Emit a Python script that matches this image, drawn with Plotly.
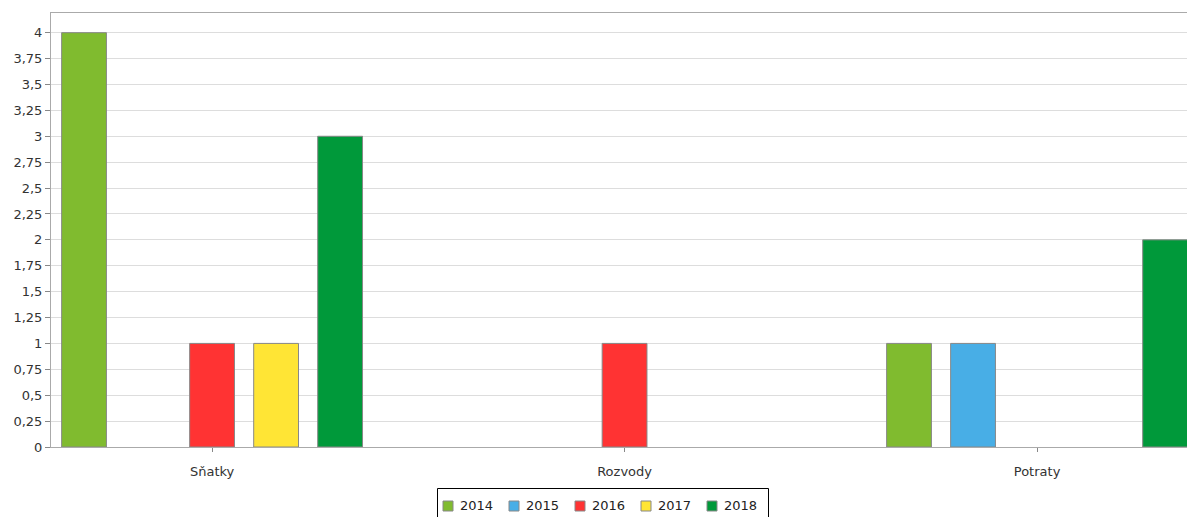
import plotly.graph_objects as go

categories = ["Sňatky", "Rozvody", "Potraty"]
years = ["2014", "2015", "2016", "2017", "2018"]
values_2014 = [4, 0, 1]
values_2015 = [0, 0, 1]
values_2016 = [1, 1, 0]
values_2017 = [1, 0, 0]
values_2018 = [3, 0, 2]
y_ticks = [0, 0.25, 0.5, 0.75, 1, 1.25, 1.5, 1.75, 2, 2.25, 2.5, 2.75, 3, 3.25, 3.5, 3.75, 4]
y_tick_text = [("%g" % v).replace(".", ",") for v in y_ticks]

series = [values_2014, values_2015, values_2016, values_2017, values_2018]
colors = ["#80BB2F", "#48AEE6", "#FF3333", "#FFE535", "#00993A"]

x_pos = list(range(len(categories)))
FONT = "DejaVu Sans, Verdana, sans-serif"

W, H = 1187, 517
PLOT_L, PLOT_R, PLOT_T, PLOT_B = 51, 1187, 13, 447


def px_x(px):
    return (px - PLOT_L) / (PLOT_R - PLOT_L)


def px_y(py):
    return (PLOT_B - py) / (PLOT_B - PLOT_T)


fig = go.Figure()
for name, vals, col in zip(years, series, colors):
    fig.add_trace(go.Bar(
        x=x_pos, y=vals, name=name,
        marker=dict(color=col, line=dict(color="#888888",
                                         width=[1 if v else 0 for v in vals])),
        showlegend=False,
    ))

# custom legend (box with swatches and labels)
shapes = [dict(type="rect", xref="paper", yref="paper",
               x0=px_x(437.5), x1=px_x(768.5), y0=px_y(488.5), y1=px_y(530),
               line=dict(color="#000000", width=1), fillcolor="white", layer="above")]
annotations = []
for i, (name, col) in enumerate(zip(years, colors)):
    left = 443 + 66 * i
    shapes.append(dict(type="rect", xref="paper", yref="paper",
                       x0=px_x(left), x1=px_x(left + 10),
                       y0=px_y(501), y1=px_y(511),
                       line=dict(color="#888888", width=1), fillcolor=col, layer="above"))
    annotations.append(dict(xref="paper", yref="paper", x=px_x(left + 15), y=px_y(506),
                            xanchor="left", yanchor="middle", showarrow=False,
                            text=name, font=dict(family=FONT, size=13, color="#222222")))

fig.update_layout(
    width=W, height=H,
    margin=dict(l=PLOT_L, r=W - PLOT_R, t=PLOT_T, b=H - PLOT_B, autoexpand=False),
    paper_bgcolor="white", plot_bgcolor="white",
    barmode="group", bargap=0.224, bargroupgap=0.3,
    font=dict(family=FONT, size=13, color="#333333"),
    showlegend=False,
    shapes=shapes, annotations=annotations,
)

fig.update_xaxes(
    range=[-0.3905, 2.3635],
    tickvals=x_pos, ticktext=categories,
    showgrid=False, zeroline=False,
    showline=True, linecolor="#aaaaaa", linewidth=1, mirror=True,
    ticks="outside", ticklen=4, tickcolor="#888888",
    ticklabelstandoff=8,
    tickfont=dict(family=FONT, size=13, color="#333333"),
)
fig.update_yaxes(
    range=[0, 4.19],
    tickvals=y_ticks, ticktext=y_tick_text,
    showgrid=True, gridcolor="#dddddd", gridwidth=1,
    zeroline=False,
    showline=True, linecolor="#aaaaaa", linewidth=1,
    ticks="outside", ticklen=5, tickcolor="#888888",
    tickfont=dict(family=FONT, size=13, color="#333333"),
)

fig.write_html(
    "out.html",
    config={"displayModeBar": False},
    post_script="document.body.style.margin='0';document.body.style.overflow='hidden';",
)
